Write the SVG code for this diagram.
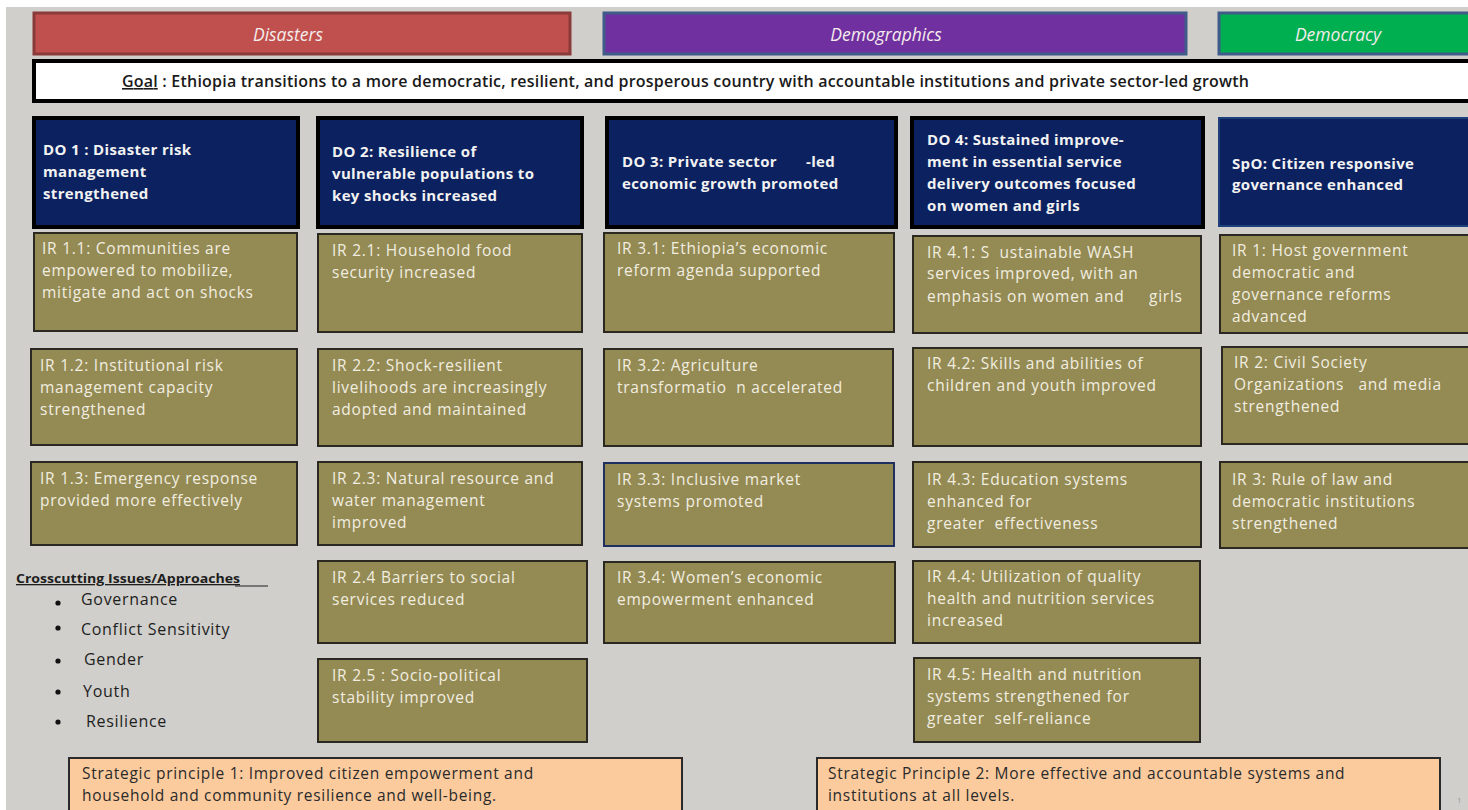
<svg xmlns="http://www.w3.org/2000/svg" width="1468" height="810" viewBox="0 0 1468 810">
<style>
  .bg { fill: #D0CFCB; }
  .band { stroke-width: 3; }
  .bandtxt { font-family: "Open Sans", "Liberation Sans", sans-serif; font-style: italic; font-size: 17.5px; fill: #F4ECEC; text-anchor: middle; }
  .goal { fill: #FFFFFF; stroke: #000000; stroke-width: 4; }
  .goaltxt { font-family: "Open Sans", "Liberation Sans", sans-serif; font-weight: 600; font-size: 16px; fill: #1A1A1A; }
  .do { fill: #0B2160; stroke: #000000; stroke-width: 4; }
  .spo { fill: #0B2160; stroke: #1F3F7A; stroke-width: 2; }
  .dotxt { font-family: "Open Sans", "Liberation Sans", sans-serif; font-weight: 700; font-size: 15px; letter-spacing: 0.35px; fill: #F2F2F2; }
  .ir { fill: #948A54; stroke: #2A2820; stroke-width: 2; }
  .ir33 { fill: #948A54; stroke: #1F3060; stroke-width: 2; }
  .irtxt { font-family: "Open Sans", "Liberation Sans", sans-serif; font-size: 15.5px; letter-spacing: 0.75px; fill: #F1EEE0; }
  .cc { font-family: "Open Sans", "Liberation Sans", sans-serif; font-size: 16px; letter-spacing: 0.7px; fill: #1E1E1E; }
  .cchead { font-family: "Open Sans", "Liberation Sans", sans-serif; font-weight: 700; font-size: 13px; fill: #1E1E1E; }
  .sp { fill: #FBCB9E; stroke: #2A2A2A; stroke-width: 2; }
  .sptxt { font-family: "Open Sans", "Liberation Sans", sans-serif; font-size: 15.5px; letter-spacing: 0.7px; fill: #2A2A2A; }
</style>
<rect x="0" y="0" width="1468" height="810" fill="#FFFFFF"/>
<rect class="bg" x="6" y="7" width="1462" height="803"/>

<g id="band-disasters">
  <rect class="band" x="34" y="13" width="536" height="41" fill="#C0504D" stroke="#8A3A38"/>
  <text class="bandtxt" x="288" y="41">Disasters</text>
</g>
<g id="band-demographics">
  <rect class="band" x="604" y="13" width="582" height="41" fill="#7030A0" stroke="#3F5B8A"/>
  <text class="bandtxt" x="886" y="41">Demographics</text>
</g>
<g id="band-democracy">
  <rect class="band" x="1219" y="13" width="260" height="41" fill="#00B050" stroke="#3F5B8A"/>
  <text class="bandtxt" x="1338" y="41">Democracy</text>
</g>

<g id="goal">
  <rect class="goal" x="34" y="61" width="1450" height="40"/>
  <text class="goaltxt" x="122" y="87" textLength="1127" lengthAdjust="spacing"><tspan text-decoration="underline">Goal</tspan> : Ethiopia transitions to a more democratic, resilient, and prosperous  country with accountable institutions and private sector-led growth</text>
</g>

<g id="do1">
  <rect class="do" x="34" y="118" width="264" height="109"/>
  <text class="dotxt" x="43" y="155">DO 1 : Disaster risk</text>
  <text class="dotxt" x="43" y="177">management</text>
  <text class="dotxt" x="43" y="199">strengthened</text>
</g>
<g id="do2">
  <rect class="do" x="318" y="118" width="264" height="109"/>
  <text class="dotxt" x="332" y="157">DO 2: Resilience of</text>
  <text class="dotxt" x="332" y="179">vulnerable populations  to</text>
  <text class="dotxt" x="332" y="201">key shocks increased</text>
</g>
<g id="do3">
  <rect class="do" x="607" y="118" width="289" height="109"/>
  <text class="dotxt" x="622" y="167">DO 3: Private sector <tspan x="806">-led</tspan></text>
  <text class="dotxt" x="622" y="189">economic growth promoted</text>
</g>
<g id="do4">
  <rect class="do" x="912" y="118" width="291" height="109"/>
  <text class="dotxt" x="927" y="145">DO 4: Sustained improve-</text>
  <text class="dotxt" x="927" y="167">ment in essential service</text>
  <text class="dotxt" x="927" y="189">delivery outcomes focused</text>
  <text class="dotxt" x="927" y="211">on women and girls</text>
</g>
<g id="spo">
  <rect class="spo" x="1219" y="118" width="260" height="108"/>
  <text class="dotxt" x="1232" y="169">SpO: Citizen responsive</text>
  <text class="dotxt" x="1232" y="190">governance enhanced</text>
</g>

<g id="ir11">
  <rect class="ir" x="34" y="233" width="263" height="98"/>
  <text class="irtxt" x="42" y="254">IR 1.1:  Communities are</text>
  <text class="irtxt" x="42" y="276">empowered to mobilize,</text>
  <text class="irtxt" x="42" y="298">mitigate and act on shocks</text>
</g>
<g id="ir12">
  <rect class="ir" x="31" y="349" width="266" height="96"/>
  <text class="irtxt" x="40" y="371">IR 1.2: Institutional risk</text>
  <text class="irtxt" x="40" y="393">management capacity</text>
  <text class="irtxt" x="40" y="415">strengthened</text>
</g>
<g id="ir13">
  <rect class="ir" x="31" y="462" width="266" height="83"/>
  <text class="irtxt" x="40" y="484">IR 1.3: Emergency response</text>
  <text class="irtxt" x="40" y="506">provided more effectively</text>
</g>

<g id="ir21">
  <rect class="ir" x="318" y="234" width="264" height="98"/>
  <text class="irtxt" x="332" y="256">IR 2.1:  Household food</text>
  <text class="irtxt" x="332" y="278">security increased</text>
</g>
<g id="ir22">
  <rect class="ir" x="318" y="349" width="264" height="97"/>
  <text class="irtxt" x="332" y="371">IR 2.2:  Shock-resilient</text>
  <text class="irtxt" x="332" y="393">livelihoods are increasingly</text>
  <text class="irtxt" x="332" y="415">adopted and maintained</text>
</g>
<g id="ir23">
  <rect class="ir" x="318" y="462" width="264" height="83"/>
  <text class="irtxt" x="332" y="484">IR 2.3:  Natural resource and</text>
  <text class="irtxt" x="332" y="506">water management</text>
  <text class="irtxt" x="332" y="528">improved</text>
</g>
<g id="ir24">
  <rect class="ir" x="318" y="561" width="269" height="82"/>
  <text class="irtxt" x="332" y="583">IR 2.4 Barriers to social</text>
  <text class="irtxt" x="332" y="605">services reduced</text>
</g>
<g id="ir25">
  <rect class="ir" x="318" y="659" width="269" height="83"/>
  <text class="irtxt" x="332" y="681">IR 2.5 : Socio-political</text>
  <text class="irtxt" x="332" y="703">stability improved</text>
</g>

<g id="ir31">
  <rect class="ir" x="604" y="233" width="290" height="99"/>
  <text class="irtxt" x="617" y="254">IR 3.1: Ethiopia’s economic</text>
  <text class="irtxt" x="617" y="276">reform agenda supported</text>
</g>
<g id="ir32">
  <rect class="ir" x="604" y="349" width="289" height="97"/>
  <text class="irtxt" x="617" y="371">IR 3.2:  Agriculture</text>
  <text class="irtxt" x="617" y="393" xml:space="preserve">transformatio  n accelerated</text>
</g>
<g id="ir33">
  <rect class="ir33" x="604" y="463" width="290" height="83"/>
  <text class="irtxt" x="617" y="485">IR 3.3: Inclusive market</text>
  <text class="irtxt" x="617" y="507">systems promoted</text>
</g>
<g id="ir34">
  <rect class="ir" x="604" y="562" width="291" height="81"/>
  <text class="irtxt" x="617" y="583">IR 3.4:  Women’s economic</text>
  <text class="irtxt" x="617" y="605">empowerment enhanced</text>
</g>

<g id="ir41">
  <rect class="ir" x="913" y="236" width="288" height="97"/>
  <text class="irtxt" x="927" y="258" xml:space="preserve">IR 4.1: S  ustainable WASH</text>
  <text class="irtxt" x="927" y="279">services improved, with an</text>
  <text class="irtxt" x="927" y="302">emphasis on women and <tspan x="1149">girls</tspan></text>
</g>
<g id="ir42">
  <rect class="ir" x="913" y="348" width="288" height="98"/>
  <text class="irtxt" x="927" y="369">IR 4.2:  Skills and abilities of</text>
  <text class="irtxt" x="927" y="391">children and youth improved</text>
</g>
<g id="ir43">
  <rect class="ir" x="913" y="462" width="288" height="85"/>
  <text class="irtxt" x="927" y="485">IR 4.3: Education systems</text>
  <text class="irtxt" x="927" y="507">enhanced for</text>
  <text class="irtxt" x="927" y="529" xml:space="preserve">greater  effectiveness</text>
</g>
<g id="ir44">
  <rect class="ir" x="913" y="561" width="287" height="82"/>
  <text class="irtxt" x="927" y="582">IR 4.4:  Utilization of quality</text>
  <text class="irtxt" x="927" y="604">health and nutrition services</text>
  <text class="irtxt" x="927" y="626">increased</text>
</g>
<g id="ir45">
  <rect class="ir" x="914" y="658" width="286" height="84"/>
  <text class="irtxt" x="927" y="680">IR 4.5: Health and nutrition</text>
  <text class="irtxt" x="927" y="702">systems strengthened for</text>
  <text class="irtxt" x="927" y="724" xml:space="preserve">greater  self-reliance</text>
</g>

<g id="irs1">
  <rect class="ir" x="1220" y="235" width="260" height="98"/>
  <text class="irtxt" x="1232" y="256">IR 1: Host government</text>
  <text class="irtxt" x="1232" y="278">democratic and</text>
  <text class="irtxt" x="1232" y="300">governance reforms</text>
  <text class="irtxt" x="1232" y="322">advanced</text>
</g>
<g id="irs2">
  <rect class="ir" x="1222" y="347" width="258" height="97"/>
  <text class="irtxt" x="1234" y="368">IR 2: Civil Society</text>
  <text class="irtxt" x="1234" y="390" xml:space="preserve">Organizations   and media</text>
  <text class="irtxt" x="1234" y="412">strengthened</text>
</g>
<g id="irs3">
  <rect class="ir" x="1220" y="462" width="260" height="86"/>
  <text class="irtxt" x="1232" y="485">IR 3: Rule of law and</text>
  <text class="irtxt" x="1232" y="507">democratic institutions</text>
  <text class="irtxt" x="1232" y="529">strengthened</text>
</g>

<g id="crosscutting">
  <text class="cchead" x="16" y="583" textLength="224" lengthAdjust="spacingAndGlyphs" text-decoration="underline">Crosscutting Issues/Approaches</text>
  <line x1="235" y1="586" x2="268" y2="586" stroke="#1E1E1E" stroke-width="1.2"/>
  <circle cx="58" cy="603" r="2.6" fill="#111"/>
  <text class="cc" x="81" y="605">Governance</text>
  <circle cx="58" cy="628" r="2.6" fill="#111"/>
  <text class="cc" x="81" y="635">Conflict Sensitivity</text>
  <circle cx="58" cy="661" r="2.6" fill="#111"/>
  <text class="cc" x="84" y="665">Gender</text>
  <circle cx="58" cy="692" r="2.6" fill="#111"/>
  <text class="cc" x="83" y="697">Youth</text>
  <circle cx="58" cy="722" r="2.6" fill="#111"/>
  <text class="cc" x="86" y="727">Resilience</text>
</g>

<g id="sp1">
  <rect class="sp" x="69" y="758" width="613" height="60"/>
  <text class="sptxt" x="82" y="779">Strategic principle 1:  Improved citizen empowerment and</text>
  <text class="sptxt" x="82" y="801">household and community resilience and well-being.</text>
</g>
<g id="sp2">
  <rect class="sp" x="817" y="758" width="623" height="60"/>
  <text class="sptxt" x="828" y="779">Strategic Principle 2:  More effective and accountable systems and</text>
  <text class="sptxt" x="828" y="801">institutions at all levels.</text>
</g>
<text x="1457" y="803" font-family="Open Sans, sans-serif" font-size="8" fill="#999">1</text>
</svg>
